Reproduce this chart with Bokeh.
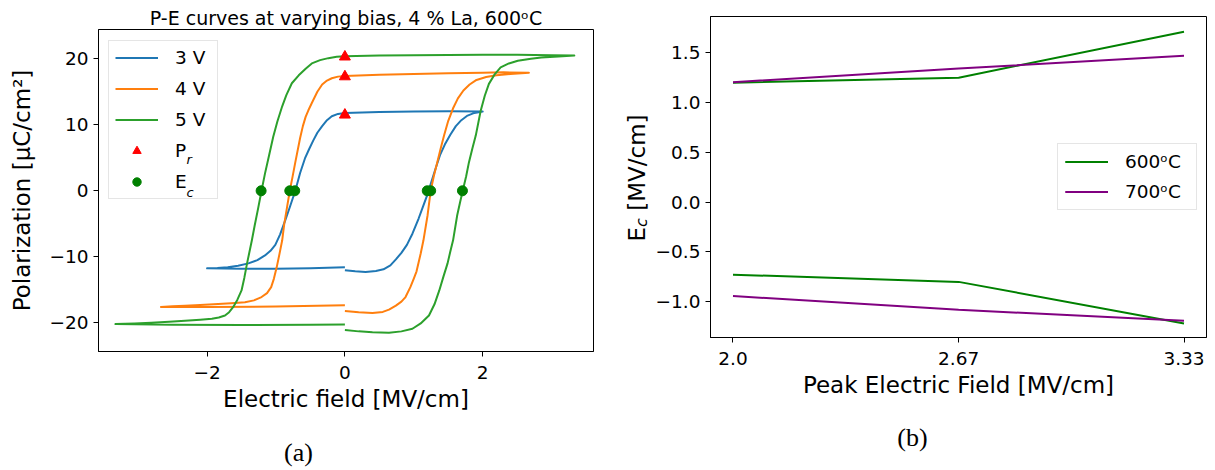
import math
from bokeh.plotting import figure
from bokeh.models import Range1d, FixedTicker, CustomJSTickFormatter, Label
from bokeh.embed import file_html
from bokeh.resources import INLINE

# ---------------- data ----------------
# each loop: start at E=0 on the lower branch, up to +Emax, back down to -Emax, return to 0
E_3V = [0.00, 0.15, 0.30, 0.45, 0.56, 0.66, 0.74, 0.82, 0.90, 0.98, 1.07, 1.14, 1.20, 1.26, 1.32,
        1.38, 1.45, 1.53, 1.61, 1.69, 1.78, 1.88, 2.00,
        1.50, 1.00, 0.50, 0.00, -0.10, -0.19, -0.26, -0.33, -0.40, -0.46, -0.52, -0.58, -0.65,
        -0.72, -0.80, -0.87, -0.94, -1.01, -1.08, -1.16, -1.27, -1.40, -1.55, -1.70, -1.85, -2.00,
        -1.50, -1.00, -0.50, 0.00]
P_3V = [-12.05, -12.2, -12.3, -12.15, -11.9, -11.3, -10.4, -9.4, -8.2, -6.5, -4.2, -2.2, -0.5, 1.5, 3.5,
        5.4, 7.0, 8.5, 9.8, 10.7, 11.4, 11.8, 12.0,
        12.05, 12.0, 11.95, 11.8, 11.65, 11.3, 10.7, 9.8, 8.8, 7.6, 6.3, 4.9, 2.7,
        0.0, -2.5, -4.6, -6.6, -8.2, -9.1, -9.8, -10.5, -11.0, -11.35, -11.6, -11.7, -11.75,
        -11.8, -11.8, -11.75, -11.6]

E_4V = [0.00, 0.20, 0.40, 0.55, 0.64, 0.74, 0.82, 0.88, 0.95, 1.00, 1.04, 1.10, 1.14, 1.20, 1.245,
        1.29, 1.34, 1.39, 1.44, 1.50, 1.57, 1.64, 1.72, 1.81, 1.91, 2.05, 2.20, 2.40, 2.67,
        2.30, 2.00, 1.50, 1.00, 0.50, 0.00, -0.10, -0.19, -0.26, -0.33, -0.40, -0.48, -0.53,
        -0.57, -0.61, -0.65, -0.72, -0.76, -0.80, -0.84, -0.88, -0.91, -0.95, -0.99, -1.03,
        -1.07, -1.13, -1.21, -1.32, -1.45, -1.65, -1.84, -2.10, -2.32, -2.50, -2.67,
        -2.00, -1.00, 0.00]
P_4V = [-18.2, -18.4, -18.5, -18.35, -18.0, -17.4, -16.8, -16.1, -14.6, -13.3, -12.2, -9.5, -7.5, -3.7, 0.0,
        2.2, 4.3, 6.4, 8.4, 10.6, 12.5, 14.0, 15.2, 16.1, 16.8, 17.25, 17.5, 17.7, 17.9,
        17.95, 17.9, 17.8, 17.7, 17.6, 17.4, 17.3, 17.05, 16.7, 16.1, 15.0, 13.3, 12.2,
        11.2, 9.8, 8.0, 4.3, 2.1, 0.0, -2.5, -5.0, -7.5, -9.6, -11.6, -13.3,
        -14.6, -15.5, -16.1, -16.6, -16.9, -17.05, -17.15, -17.3, -17.4, -17.5, -17.6,
        -17.6, -17.55, -17.35]

E_5V = [0.00, 0.20, 0.40, 0.64, 0.82, 0.98, 1.10, 1.22, 1.30, 1.37, 1.43, 1.49, 1.53, 1.57, 1.63,
        1.67, 1.71, 1.76, 1.80, 1.85, 1.90, 1.97, 2.03, 2.09, 2.17, 2.26, 2.38, 2.51, 2.70, 2.85,
        3.10, 3.33,
        3.00, 2.50, 2.00, 1.00, 0.50, 0.00, -0.12, -0.24, -0.36, -0.48, -0.57, -0.67, -0.77,
        -0.85, -0.91, -0.98, -1.04, -1.10, -1.16, -1.21, -1.26, -1.31, -1.35, -1.42, -1.46,
        -1.50, -1.56, -1.62, -1.68, -1.74, -1.83, -1.93, -2.10, -2.32, -2.55, -2.81, -3.05, -3.33,
        -2.50, -1.50, -0.50, 0.00]
P_5V = [-21.1, -21.3, -21.45, -21.5, -21.3, -20.9, -20.1, -18.9, -17.2, -15.1, -13.0, -11.0, -9.2, -7.5, -3.7,
        -1.8, 0.0, 2.2, 4.3, 6.4, 8.4, 12.1, 14.4, 16.2, 17.6, 18.7, 19.3, 19.7, 20.0, 20.2,
        20.35, 20.5,
        20.55, 20.6, 20.6, 20.55, 20.5, 20.4, 20.3, 20.1, 19.8, 19.3, 18.5, 17.5, 16.3,
        14.5, 12.8, 10.5, 8.2, 5.4, 2.6, 0.0, -2.7, -5.3, -7.5, -11.0, -13.2,
        -15.1, -16.5, -17.6, -18.4, -18.9, -19.2, -19.4, -19.55, -19.7, -19.85, -20.0, -20.1, -20.2,
        -20.3, -20.35, -20.3, -20.25]

loop_labels = ["3 V", "4 V", "5 V"]
Pr_field = [0.0, 0.0, 0.0]
Pr_values = [11.5, 17.3, 20.3]

peak_field = [2.0, 2.667, 3.333]
peak_tick_labels = ["2.0", "2.67", "3.33"]
Ec_600_pos = [1.195, 1.245, 1.706]
Ec_600_neg = [-0.728, -0.80, -1.216]
Ec_700_pos = [1.20, 1.336, 1.466]
Ec_700_neg = [-0.942, -1.079, -1.19]
Ec_zero = [0.0] * 6

FONT = "DejaVu Sans"
TICK_SIZE = "18.5px"
LABEL_SIZE = "23px"
LOOP_COLORS = ["#1f77b4", "#ff7f0e", "#2ca02c"]


def style_axes(p):
    p.grid.visible = False
    p.outline_line_color = "black"
    p.outline_line_alpha = 1.0
    p.outline_line_width = 1
    p.background_fill_color = "white"
    p.border_fill_color = "white"
    for ax in p.axis:
        ax.axis_line_color = "black"
        ax.major_tick_line_color = "black"
        ax.major_tick_out = 5
        ax.major_tick_in = 0
        ax.minor_tick_line_color = None
        ax.major_label_text_font = FONT
        ax.major_label_text_font_size = TICK_SIZE
        ax.major_label_text_color = "black"
        ax.axis_label_text_font = FONT
        ax.axis_label_text_font_size = LABEL_SIZE
        ax.axis_label_text_font_style = "normal"
        ax.axis_label_text_color = "black"
        ax.axis_label_standoff = 4
    p.xaxis.major_label_standoff = 9


def text_label(x, y, text, size, style="normal", font=FONT, align="left", angle=0.0):
    return Label(x=x, y=y, x_units="screen", y_units="screen", text=text, angle=angle,
                 text_font=font, text_font_style=style, text_font_size=size,
                 text_color="black", text_align=align, text_baseline="alphabetic")


def text_strip(width, height):
    s = figure(width=width, height=height, output_backend="svg", toolbar_location=None,
               x_range=Range1d(0, 1), y_range=Range1d(0, 1),
               x_axis_location=None, y_axis_location=None,
               min_border=0, min_border_left=0, min_border_right=0,
               min_border_top=0, min_border_bottom=0)
    s.grid.visible = False
    s.outline_line_color = None
    s.background_fill_color = "white"
    s.border_fill_color = "white"
    return s


# ---------------- left panel ----------------
p1 = figure(width=610, height=420, output_backend="svg", toolbar_location=None,
            x_range=Range1d(-3.576, 3.608), y_range=Range1d(-24.35, 24.44),
            min_border_left=98, min_border_right=17, min_border_top=29, min_border_bottom=69)
style_axes(p1)
p1.title.text = "P-E curves at varying bias, 4 % La, 600\u1d52C"
p1.title.align = "center"
p1.title.text_font = FONT
p1.title.text_font_style = "normal"
p1.title.text_font_size = "19px"
p1.title.text_color = "black"
p1.title.standoff = 2

p1.xaxis.ticker = FixedTicker(ticks=[-2, 0, 2], minor_ticks=[])
p1.yaxis.ticker = FixedTicker(ticks=[-20, -10, 0, 10, 20], minor_ticks=[])
p1.xaxis.formatter = CustomJSTickFormatter(code="return String(tick).replace('-', '\u2212');")
p1.yaxis.formatter = CustomJSTickFormatter(code="return String(tick).replace('-', '\u2212');")
p1.xaxis.axis_label = "Electric field [MV/cm]"
p1.yaxis.axis_label = "Polarization [\u03bcC/cm\u00b2]"
p1.yaxis.axis_label_standoff = 11

for E, P, lab, col in zip([E_3V, E_4V, E_5V], [P_3V, P_4V, P_5V], loop_labels, LOOP_COLORS):
    p1.line(E, P, line_color=col, line_width=2, line_join="round", legend_label=lab)

p1.scatter(Pr_field, Pr_values, marker="triangle", size=11, fill_color="red", line_color="red",
           legend_label="P")
p1.scatter(Ec_600_neg + Ec_600_pos, Ec_zero, marker="circle", size=10, fill_color="green",
           line_color="green", legend_label="E")

leg1 = p1.legend[0]
leg1.location = (10, 152)
leg1.padding = 6
leg1.spacing = 10
leg1.margin = 0
leg1.glyph_width = 43
leg1.glyph_height = 21
leg1.label_height = 21
leg1.label_width = 36
leg1.label_standoff = 17
leg1.label_text_font = FONT
leg1.label_text_font_size = TICK_SIZE
leg1.label_text_color = "black"
leg1.border_line_color = "#cccccc"
leg1.border_line_width = 1
leg1.background_fill_alpha = 0.0

# subscripts of the legend entries P_r and E_c
p1.add_layout(text_label(88, 192, "r", "13px", style="italic"))
p1.add_layout(text_label(88, 159, "c", "13px", style="italic"))

# ---------------- strip holding the rotated y label of the right panel ----------------
ylab = text_strip(40, 420)
rot = math.pi / 2
ylab.add_layout(text_label(26, 179, "E", LABEL_SIZE, angle=rot))
ylab.add_layout(text_label(31, 193.6, "c", "16px", style="italic", angle=rot))
ylab.add_layout(text_label(26, 209.7, "[MV/cm]", LABEL_SIZE, angle=rot))

# ---------------- right panel ----------------
p2 = figure(width=565, height=420, output_backend="svg", toolbar_location=None,
            x_range=Range1d(1.9335, 3.3995), y_range=Range1d(-1.357, 1.858),
            min_border_left=60, min_border_right=9, min_border_top=16, min_border_bottom=83)
style_axes(p2)
p2.xaxis.ticker = FixedTicker(ticks=peak_field, minor_ticks=[])
p2.xaxis.major_label_overrides = dict(zip(peak_field, peak_tick_labels))
p2.yaxis.ticker = FixedTicker(ticks=[-1.0, -0.5, 0.0, 0.5, 1.0, 1.5], minor_ticks=[])
p2.yaxis.formatter = CustomJSTickFormatter(code="return tick.toFixed(1).replace('-', '\u2212');")
p2.xaxis.axis_label = "Peak Electric Field [MV/cm]"

p2.line(peak_field, Ec_600_pos, line_color="green", line_width=2, legend_label="600\u1d52C")
p2.line(peak_field, Ec_600_neg, line_color="green", line_width=2, legend_label="600\u1d52C")
p2.line(peak_field, Ec_700_pos, line_color="purple", line_width=2, legend_label="700\u1d52C")
p2.line(peak_field, Ec_700_neg, line_color="purple", line_width=2, legend_label="700\u1d52C")

leg2 = p2.legend[0]
leg2.location = (347, 127)
leg2.padding = 7
leg2.spacing = 9
leg2.margin = 0
leg2.glyph_width = 43
leg2.glyph_height = 21
leg2.label_height = 21
leg2.label_width = 64
leg2.label_standoff = 17
leg2.label_text_font = FONT
leg2.label_text_font_size = TICK_SIZE
leg2.label_text_color = "black"
leg2.border_line_color = "#cccccc"
leg2.border_line_width = 1
leg2.background_fill_alpha = 0.8

# ---------------- strip holding the sub-figure captions ----------------
captions = text_strip(1215, 50)
captions.add_layout(text_label(298, 18.5, "(a)", "26px", font="Liberation Serif", align="center"))
captions.add_layout(text_label(912, 33.5, "(b)", "26px", font="Liberation Serif", align="center"))

# panels side by side (each keeps its own frame), captions underneath
page_style = """{% block postamble %}
<style>
html, body { margin: 0; padding: 0; overflow: hidden; }
body { display: flex; flex-direction: row; flex-wrap: wrap; align-items: flex-start;
       align-content: flex-start; width: 1215px; }
</style>
{% endblock %}"""

open("out.html", "w").write(file_html([p1, ylab, p2, captions], INLINE, template=page_style))
